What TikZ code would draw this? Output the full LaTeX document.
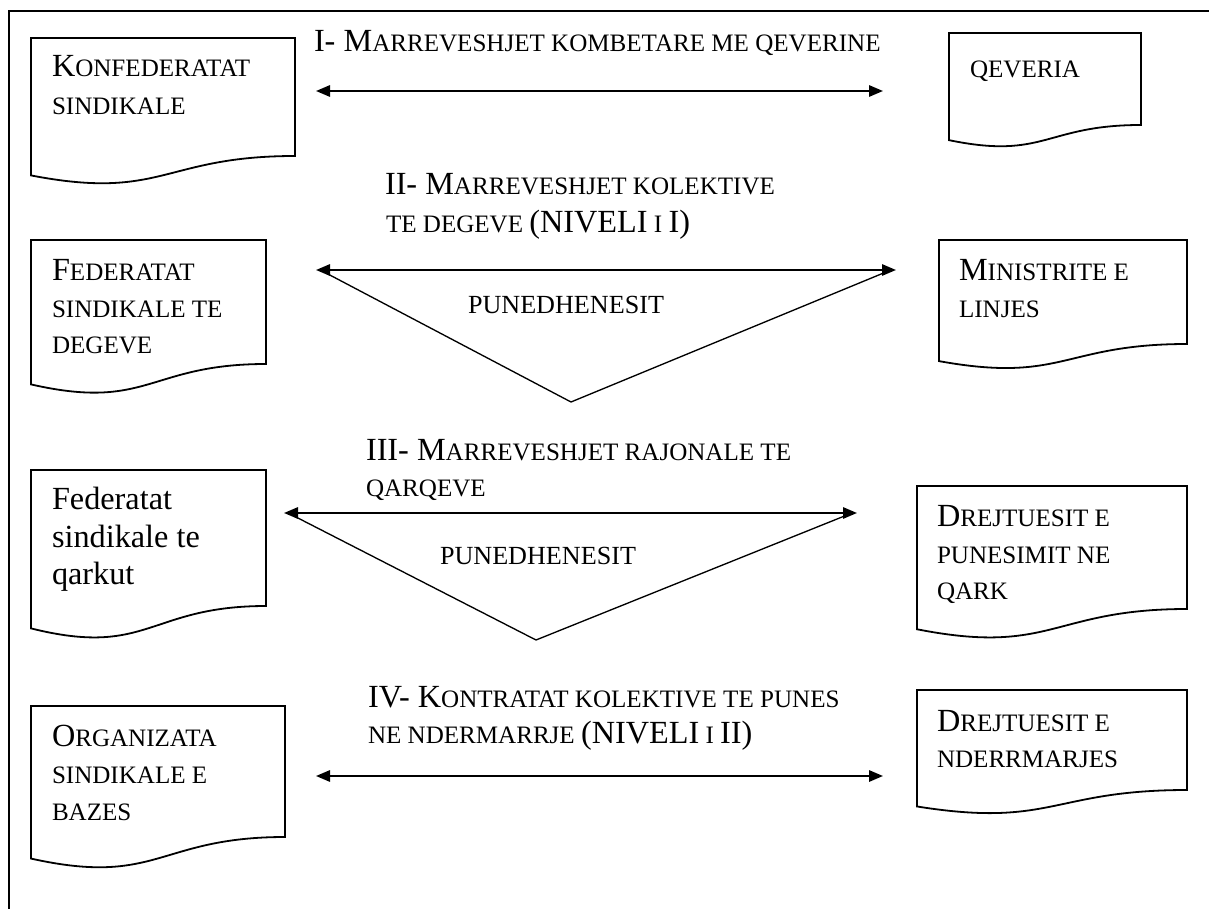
\documentclass[tikz,border=0pt]{standalone}
\usepackage{fontspec}
\setmainfont{Liberation Serif}
\usetikzlibrary{arrows.meta}
\newcommand\BigF{\fontsize{24.2pt}{28pt}\selectfont}
\newcommand\SmF{\fontsize{18.8pt}{28pt}\selectfont}
\newcommand\PuF{\fontsize{19.6pt}{28pt}\selectfont}
% name, left, right, top, right-bottom
\newcommand\docbox[5]{%
  \pgfmathsetmacro\docH{(#5-#4)/0.802}%
  \pgfmathsetmacro\docM{(#2+#3)/2}%
  \draw[docline] (#2,#4) -- (#3,#4) -- (#3,#5)
    .. controls (\docM,#5) and (\docM,#4+1.1075*\docH) .. (#2,#4+0.934*\docH) -- cycle;
  \coordinate (#1) at (\docM,#4);
}
\begin{document}
\begin{tikzpicture}[x=0.75pt,y=-0.75pt,
  docline/.style={line width=1.35pt, line join=miter},
  txt/.style={anchor=base west, inner sep=0pt, outer sep=0pt},
  arr/.style={line width=1.5pt, {Triangle[length=10.5pt,width=8.5pt]}-{Triangle[length=10.5pt,width=8.5pt]}},
  tri/.style={line width=1pt, line join=miter}]
\useasboundingbox (0,0) rectangle (1209,909);
% frame
\draw[line width=1.5pt] (9,960) -- (9,11) -- (1260,11);

% ---------- left column ----------
\docbox{d1}{31}{295}{38}{156}
\node[txt] (d1a) at (52,77) {{\BigF K}{\SmF ONFEDERATAT}};
\node[txt] (d1b) at (52,115) {\SmF SINDIKALE};

\docbox{d2}{31}{266}{240}{364}
\node[txt] (d2a) at (52,280) {{\BigF F}{\SmF EDERATAT}};
\node[txt] (d2b) at (52,317) {\SmF SINDIKALE TE};
\node[txt] (d2c) at (52,353) {\SmF DEGEVE};

\docbox{d3}{31}{266}{470}{606}
\node[txt] (d3a) at (52,509) {\BigF Federatat};
\node[txt] (d3b) at (52,547) {\BigF sindikale te};
\node[txt] (d3c) at (52,584) {\BigF qarkut};

\docbox{d4}{31}{285}{706}{837}
\node[txt] (d4a) at (52,746) {{\BigF O}{\SmF RGANIZATA}};
\node[txt] (d4b) at (52,783) {\SmF SINDIKALE E};
\node[txt] (d4c) at (52,820) {\SmF BAZES};

% ---------- right column ----------
\docbox{q1}{949}{1141}{33}{125}
\node[txt] (q1a) at (970,78) {\SmF QEVERIA};

\docbox{q2}{939}{1187}{240}{344}
\node[txt] (q2a) at (959,281) {{\BigF M}{\SmF INISTRITE E}};
\node[txt] (q2b) at (959,317) {\SmF LINJES};

\docbox{q3}{917}{1187}{486}{609}
\node[txt] (q3a) at (937,526) {{\BigF D}{\SmF REJTUESIT E}};
\node[txt] (q3b) at (937,563) {\SmF PUNESIMIT NE};
\node[txt] (q3c) at (937,599) {\SmF QARK};

\docbox{q4}{917}{1187}{690}{790}
\node[txt] (q4a) at (937,731) {{\BigF D}{\SmF REJTUESIT E}};
\node[txt] (q4b) at (937,767) {\SmF NDERRMARJES};

% ---------- level I ----------
\node[txt] (t1) at (314,52) {{\BigF I- M}{\SmF ARREVESHJET KOMBETARE ME QEVERINE}};
\coordinate (a1l) at (316,91);
\coordinate (a1r) at (883,91);
\draw[arr] (a1l) -- (a1r);

% ---------- level II ----------
\node[txt] (t2a) at (385,195) {{\BigF II- M}{\SmF ARREVESHJET KOLEKTIVE}};
\node[txt] (t2b) at (386,233) {{\SmF TE DEGEVE }{\BigF (NIVELI}{\SmF{} I }{\BigF I)}};
\coordinate (a2l) at (316,270);
\coordinate (a2r) at (896,270);
\coordinate (v2l) at (326,273);
\coordinate (v2r) at (886,272);
\coordinate (v2b) at (571,402);
\draw[tri] (v2l) -- (v2b) -- (v2r);
\draw[arr] (a2l) -- (a2r);
\node[txt] (p2) at (468,313) {\PuF PUNEDHENESIT};

% ---------- level III ----------
\node[txt] (t3a) at (366,460) {{\BigF III- M}{\SmF ARREVESHJET RAJONALE TE}};
\node[txt] (t3b) at (366,496) {\SmF QARQEVE};
\coordinate (a3l) at (284,513);
\coordinate (a3r) at (857,513);
\coordinate (v3l) at (294,516);
\coordinate (v3r) at (847,515);
\coordinate (v3b) at (536,640);
\draw[tri] (v3l) -- (v3b) -- (v3r);
\draw[arr] (a3l) -- (a3r);
\node[txt] (p3) at (440,564) {\PuF PUNEDHENESIT};

% ---------- level IV ----------
\node[txt] (t4a) at (368,707) {{\BigF IV- K}{\SmF ONTRATAT KOLEKTIVE TE PUNES}};
\node[txt] (t4b) at (368,743) {{\SmF NE NDERMARRJE }{\BigF (NIVELI}{\SmF{} I }{\BigF II)}};
\coordinate (a4l) at (316,776);
\coordinate (a4r) at (883,776);
\draw[arr] (a4l) -- (a4r);
\end{tikzpicture}
\end{document}
